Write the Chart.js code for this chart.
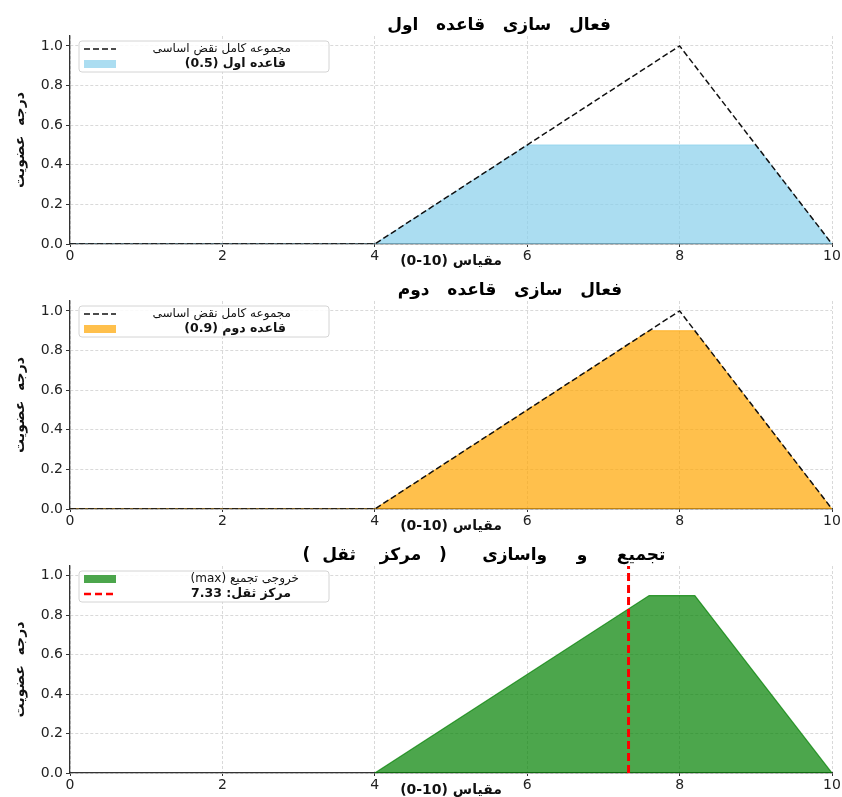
<!DOCTYPE html>
<html>
<head>
<meta charset="utf-8">
<script src="https://cdn.jsdelivr.net/npm/chart.js@4.4.0/dist/chart.umd.min.js"></script>
<style>
  html, body { margin: 0; padding: 0; background: #fff; width: 842px; height: 797px; overflow: hidden; }
  .panel { position: absolute; left: 0; width: 842px; }
  canvas { direction: rtl; }
</style>
</head>
<body>
<div class="panel" style="top:0;height:270px"><canvas id="c1" dir="rtl"></canvas></div>
<div class="panel" style="top:265px;height:270px"><canvas id="c2" dir="rtl"></canvas></div>
<div class="panel" style="top:530px;height:269px"><canvas id="c3" dir="rtl"></canvas></div>
<script>
// axis ticks
const xTicks = [0, 2, 4, 6, 8, 10];
const yTicks = [0, 0.2, 0.4, 0.6, 0.8, 1.0];

// full base membership (triangle 4-8-10)
const baseX = [0, 4, 8, 10];
const baseY = [0, 0, 1, 0];

// rule 1 clipped at 0.5
const rule1X = [0, 4, 6, 9, 10];
const rule1Y = [0, 0, 0.5, 0.5, 0];

// rule 2 clipped at 0.9
const rule2X = [0, 4, 7.6, 8.2, 10];
const rule2Y = [0, 0, 0.9, 0.9, 0];

// aggregated output (max)
const aggX = [4, 7.6, 8.2, 10];
const aggY = [0, 0.9, 0.9, 0];

const centroid = 7.33;

const titles = [
  'فعال   سازی   قاعده   اول',
  'فعال   سازی   قاعده   دوم',
  'تجمیع     و     واسازی      (   مرکز    ثقل  )'
];
// \u200E keeps "0-10" in its own order inside the rtl label
const xLabel = 'مقیاس (\u200E0-10\u200E)';
const yLabel = 'درجه  عضویت';
const baseLabel = 'مجموعه کامل نقض اساسی';

Chart.defaults.font.family = "'DejaVu Sans', sans-serif";
Chart.defaults.color = '#222';

const pts = (xs, ys) => xs.map((x, i) => ({ x: x, y: ys[i] }));

// panel title, centred where the reference puts it
const panelTitle = {
  id: 'panelTitle',
  afterDraw(chart, args, opts) {
    const ctx = chart.ctx;
    ctx.save();
    ctx.direction = 'rtl';
    ctx.textAlign = 'center';
    ctx.textBaseline = 'middle';
    ctx.fillStyle = '#000';
    ctx.font = 'bold 17px "DejaVu Sans"';
    ctx.fillText(opts.text, opts.cx, 26);
    ctx.restore();
  }
};

// legend box drawn inside the plot, upper left
const boxLegend = {
  id: 'boxLegend',
  afterDraw(chart, args, opts) {
    const { ctx, chartArea } = chart;
    const x = chartArea.left + 9, y = chartArea.top + 5, w = 250, h = 31;
    ctx.save();
    ctx.beginPath();
    ctx.roundRect(x, y, w, h, 3);
    ctx.fillStyle = 'rgba(255,255,255,0.85)';
    ctx.fill();
    ctx.strokeStyle = '#d4d4d4';
    ctx.lineWidth = 1;
    ctx.stroke();
    opts.items.forEach((it, i) => {
      const cy = y + 8 + i * 15;
      if (it.kind === 'line') {
        ctx.beginPath();
        ctx.setLineDash(it.dash);
        ctx.strokeStyle = it.color;
        ctx.lineWidth = it.width;
        ctx.moveTo(x + 5, cy);
        ctx.lineTo(x + 37, cy);
        ctx.stroke();
        ctx.setLineDash([]);
      } else {
        ctx.fillStyle = it.color;
        ctx.fillRect(x + 5, cy - 4, 32, 8);
      }
      ctx.direction = 'rtl';
      ctx.textAlign = 'right';
      ctx.textBaseline = 'middle';
      ctx.fillStyle = '#111';
      ctx.font = it.font;
      ctx.fillText(it.text, x + it.tx, cy);
    });
    ctx.restore();
  }
};

function makeOptions(title, titleX, legendItems) {
  return {
    responsive: true,
    maintainAspectRatio: false,
    animation: false,
    layout: { padding: { left: 0, right: 10, top: 36, bottom: 0 } },
    elements: { point: { radius: 0 }, line: { tension: 0 } },
    plugins: {
      legend: { display: false },
      tooltip: { enabled: false },
      title: { display: false },
      panelTitle: { text: title, cx: titleX },
      boxLegend: { items: legendItems }
    },
    scales: {
      x: {
        type: 'linear',
        min: 0,
        max: 10,
        afterBuildTicks: (s) => { s.ticks = xTicks.map(v => ({ value: v })); },
        afterFit: (s) => { s.height = 26; },
        ticks: { font: { size: 14 }, padding: 1, maxRotation: 0 },
        grid: { color: '#d9d9d9', tickColor: '#333', tickLength: 3, tickBorderDash: [] },
        border: { display: true, color: '#333', width: 1.3, dash: [3, 2] },
        title: {
          display: true,
          text: xLabel,
          color: '#111',
          font: { size: 14, weight: 'bold' },
          padding: { top: 2, bottom: 0 }
        }
      },
      y: {
        min: 0,
        max: 1.05,
        afterBuildTicks: (s) => { s.ticks = yTicks.map(v => ({ value: v })); },
        afterFit: (s) => { s.width = 70; },
        ticks: { font: { size: 14 }, padding: 3, callback: (v) => v.toFixed(1) },
        grid: { color: '#d9d9d9', tickColor: '#333', tickLength: 4, tickBorderDash: [] },
        border: { display: true, color: '#333', width: 1.3, dash: [3, 2] },
        title: {
          display: true,
          text: yLabel,
          color: '#111',
          font: { size: 14, weight: 'bold' },
          padding: 12
        }
      }
    }
  };
}

const baseDataset = {
  data: pts(baseX, baseY),
  borderColor: '#111',
  borderWidth: 1.5,
  borderDash: [6, 3],
  fill: false,
  order: 0
};

// panel 1
new Chart(document.getElementById('c1'), {
  type: 'line',
  data: {
    datasets: [
      Object.assign({}, baseDataset),
      {
        data: pts(rule1X, rule1Y),
        borderColor: 'rgba(135,206,235,0.7)',
        borderWidth: 1,
        backgroundColor: 'rgba(135,206,235,0.7)',
        fill: 'origin',
        order: 1
      }
    ]
  },
  options: makeOptions(titles[0], 499, [
    { kind: 'line', color: '#111', width: 1.5, dash: [6, 3], text: baseLabel, font: '12px "DejaVu Sans"', tx: 212 },
    { kind: 'box', color: 'rgba(135,206,235,0.7)', text: 'قاعده اول (0.5)', font: 'bold 12.5px "DejaVu Sans"', tx: 207 }
  ]),
  plugins: [panelTitle, boxLegend]
});

// panel 2
new Chart(document.getElementById('c2'), {
  type: 'line',
  data: {
    datasets: [
      Object.assign({}, baseDataset),
      {
        data: pts(rule2X, rule2Y),
        borderColor: 'rgba(255,165,0,0.7)',
        borderWidth: 1,
        backgroundColor: 'rgba(255,165,0,0.7)',
        fill: 'origin',
        order: 1
      }
    ]
  },
  options: makeOptions(titles[1], 510, [
    { kind: 'line', color: '#111', width: 1.5, dash: [6, 3], text: baseLabel, font: '12px "DejaVu Sans"', tx: 212 },
    { kind: 'box', color: 'rgba(255,165,0,0.7)', text: 'قاعده دوم (0.9)', font: 'bold 12.5px "DejaVu Sans"', tx: 207 }
  ]),
  plugins: [panelTitle, boxLegend]
});

// panel 3
new Chart(document.getElementById('c3'), {
  type: 'line',
  data: {
    datasets: [
      {
        data: [{ x: centroid, y: 0 }, { x: centroid, y: 1.05 }],
        borderColor: '#ff0000',
        borderWidth: 3,
        borderDash: [8, 4],
        fill: false,
        order: 0
      },
      {
        data: pts(aggX, aggY),
        borderColor: 'rgba(0,128,0,0.7)',
        borderWidth: 1.2,
        backgroundColor: 'rgba(0,128,0,0.7)',
        fill: 'origin',
        order: 1
      }
    ]
  },
  options: makeOptions(titles[2], 484, [
    { kind: 'box', color: 'rgba(0,128,0,0.7)', text: 'خروجی تجمیع (max)', font: '12px "DejaVu Sans"', tx: 220 },
    { kind: 'line', color: '#ff0000', width: 2.5, dash: [7, 4], text: 'مرکز ثقل: 7.33', font: 'bold 12.5px "DejaVu Sans"', tx: 212 }
  ]),
  plugins: [panelTitle, boxLegend]
});
</script>
</body>
</html>
